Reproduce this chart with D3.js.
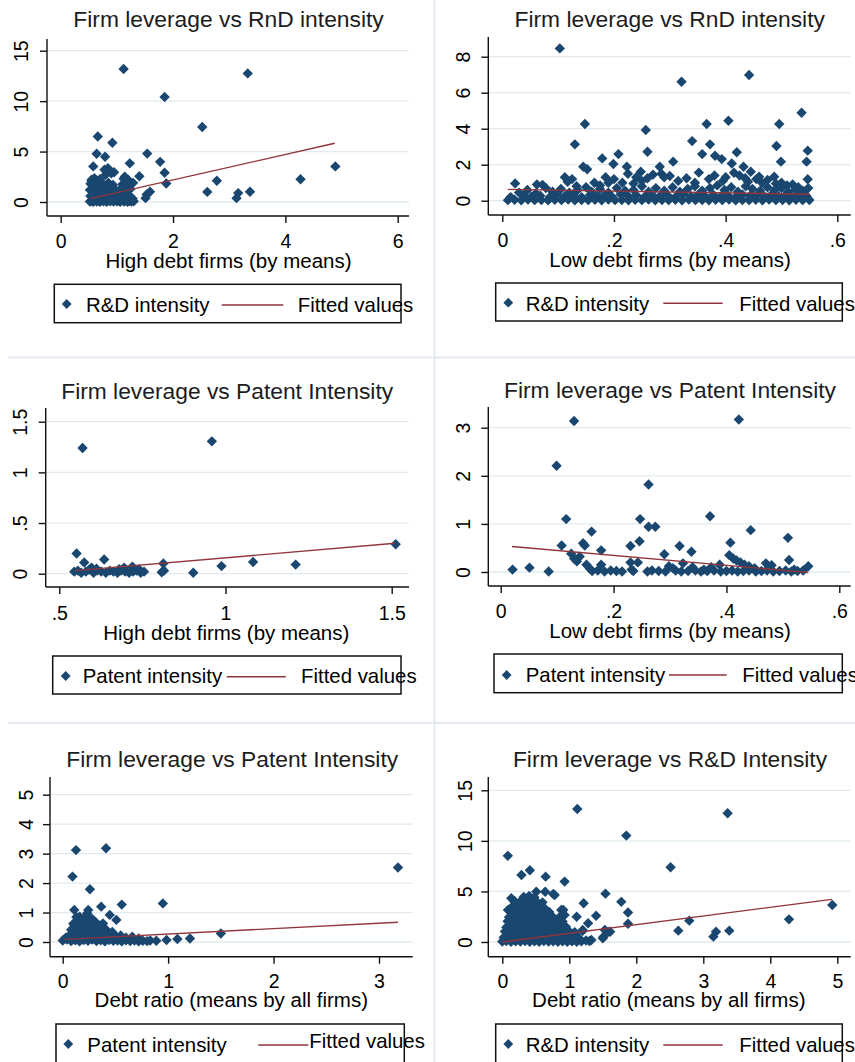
<!DOCTYPE html>
<html>
<head>
<meta charset="utf-8">
<script src="https://cdn.jsdelivr.net/npm/d3@7"></script>
<style>
  html, body { margin: 0; padding: 0; background: #fff; }
  svg { display: block; font-family: "Liberation Sans", Arial, sans-serif; }
</style>
</head>
<body>
<svg id="chart" width="855" height="1062"></svg>
<script>
// ---------- text ----------
const titles = [
  "Firm leverage vs RnD intensity",
  "Firm leverage vs RnD intensity",
  "Firm leverage vs Patent Intensity",
  "Firm leverage vs Patent Intensity",
  "Firm leverage vs Patent Intensity",
  "Firm leverage vs R&D Intensity"
];
const xTitles = [
  "High debt firms (by means)",
  "Low debt firms (by means)",
  "High debt firms (by means)",
  "Low debt firms (by means)",
  "Debt ratio (means by all firms)",
  "Debt ratio (means by all firms)"
];
const seriesLabels = ["R&D intensity", "R&D intensity", "Patent intensity", "Patent intensity", "Patent intensity", "R&D intensity"];
const fitLabel = "Fitted values";

// ---------- ticks ----------
const xTickVals = [[0, 2, 4, 6], [0, 0.2, 0.4, 0.6], [0.5, 1, 1.5], [0, 0.2, 0.4, 0.6], [0, 1, 2, 3], [0, 1, 2, 3, 4, 5]];
const xTickText = [["0", "2", "4", "6"], ["0", ".2", ".4", ".6"], [".5", "1", "1.5"], ["0", ".2", ".4", ".6"], ["0", "1", "2", "3"], ["0", "1", "2", "3", "4", "5"]];
const yTickVals = [[0, 5, 10, 15], [0, 2, 4, 6, 8], [0, 0.5, 1, 1.5], [0, 1, 2, 3], [0, 1, 2, 3, 4, 5], [0, 5, 10, 15]];
const yTickText = [["0", "5", "10", "15"], ["0", "2", "4", "6", "8"], ["0", ".5", "1", "1.5"], ["0", "1", "2", "3"], ["0", "1", "2", "3", "4", "5"], ["0", "5", "10", "15"]];

// ---------- observations: [debt measure, intensity] ----------
// High debt firms, R&D intensity
const highDebtRnd = [
  [1.12,13.18],[3.33,12.75],[1.85,10.41],[2.52,7.43],[0.66,6.5],[0.92,5.88],[0.64,4.79],[0.79,4.49],
  [1.54,4.8],[1.77,3.98],[1.23,3.83],[0.58,3.53],[4.89,3.53],[1.85,2.9],[1.4,2.55],[1.88,1.84],
  [2.78,2.1],[4.27,2.25],[2.61,1.0],[3.16,0.88],[3.13,0.38],[3.37,1.02],[1.51,0.38],[1.59,1.02],
  [1.53,0.75],[1.14,2.51],[0.84,3.34],[0.9,2.84],[0.55,2.01],[0.78,3.2],[0.88,3.1],[0.95,2.95],
  [0.8,2.7],[1.29,1.9],[1.2,2.2],
  [0.52,0.05],[0.55,0.1],[0.58,0.02],[0.61,0.2],[0.64,0.05],[0.67,0.12],[0.7,0.03],[0.73,0.25],
  [0.76,0.08],[0.79,0.15],[0.82,0.02],[0.85,0.3],[0.88,0.06],[0.91,0.18],[0.94,0.04],[0.97,0.22],
  [1.0,0.08],[1.03,0.12],[1.06,0.03],[1.1,0.27],[1.13,0.05],[1.16,0.15],[1.19,0.02],[1.22,0.1],
  [1.26,0.04],[1.3,0.07],
  [0.53,0.6],[0.57,0.45],[0.6,0.75],[0.63,0.55],[0.66,0.8],[0.69,0.5],[0.72,0.65],[0.75,0.9],
  [0.78,0.55],[0.81,0.7],[0.84,0.48],[0.87,0.82],[0.9,0.6],[0.93,0.45],[0.96,0.7],[0.99,0.55],
  [1.02,0.78],[1.05,0.5],[1.08,0.65],[1.11,0.8],[1.14,0.45],[1.17,0.6],[1.2,0.72],[1.24,0.5],[1.28,0.35],
  [0.52,1.2],[0.56,1.05],[0.59,1.35],[0.62,1.1],[0.65,1.45],[0.68,1.0],[0.71,1.3],[0.74,1.15],
  [0.77,1.4],[0.8,1.05],[0.83,1.25],[0.86,0.98],[0.89,1.2],[0.92,1.1],[0.96,1.3],[1.0,1.02],
  [1.04,1.15],[1.08,1.25],[1.12,1.05],[1.16,1.2],[1.2,1.1],[1.24,1.3],
  [0.53,1.8],[0.57,1.65],[0.6,1.95],[0.64,1.7],[0.68,1.85],[0.72,1.6],[0.76,1.75],[0.8,1.62],
  [0.85,1.9],[0.93,1.7],[1.1,1.75],[1.15,1.9],[1.2,1.65],
  [0.55,2.2],[0.6,2.35],[0.65,2.1],[0.7,2.25],[1.12,2.3],[1.18,2.15]
];

// Low debt firms, R&D intensity
const lowDebtRnd = [
  [0.103,8.46],[0.321,6.61],[0.442,6.98],[0.536,4.89],[0.148,4.26],[0.257,3.93],[0.366,4.26],[0.405,4.44],
  [0.496,4.26],[0.13,3.13],[0.34,3.31],[0.372,3.13],[0.491,3.04],[0.547,2.78],[0.26,2.72],[0.208,2.59],
  [0.179,2.35],[0.358,2.59],[0.381,2.5],[0.393,2.31],[0.42,2.69],[0.306,2.17],[0.199,2.04],[0.499,2.17],
  [0.545,2.17],[0.145,1.89],[0.152,1.75],[0.411,2.07],[0.432,1.89],[0.223,1.89],[0.282,1.89],[0.248,1.61],
  [0.445,1.61],[0.487,1.33],[0.547,1.19],[0.023,0.96],[0.3,1.37],[0.352,1.56],[0.46,1.33],[0.225,1.5],
  [0.2,1.2],[0.19,1.0],[0.112,1.3],[0.125,1.2],[0.117,1.05],[0.133,0.8],[0.062,0.9],[0.072,0.88],
  [0.27,1.45],[0.285,1.5],[0.29,1.3],[0.315,1.1],[0.33,1.25],[0.345,1.0],[0.37,1.2],[0.38,1.4],
  [0.395,1.1],[0.4,1.3],[0.415,1.55],[0.425,1.4],[0.435,1.25],[0.44,1.05],[0.455,1.2],[0.465,1.0],
  [0.475,1.15],[0.49,0.95],[0.5,1.0],[0.51,0.85],[0.52,0.9],[0.53,0.75],[0.24,1.3],[0.25,1.1],
  [0.26,1.25],[0.215,1.0],[0.235,0.95],[0.165,1.0],[0.175,0.85],[0.185,1.3],
  [0.03,0.45],[0.045,0.6],[0.06,0.4],[0.078,0.7],[0.09,0.5],[0.105,0.65],[0.12,0.45],[0.135,0.6],
  [0.15,0.75],[0.16,0.5],[0.175,0.65],[0.19,0.45],[0.205,0.7],[0.22,0.55],[0.235,0.6],[0.25,0.8],
  [0.262,0.5],[0.275,0.7],[0.29,0.55],[0.305,0.75],[0.318,0.5],[0.332,0.65],[0.345,0.8],[0.358,0.55],
  [0.372,0.7],[0.385,0.85],[0.398,0.6],[0.41,0.75],[0.422,0.5],[0.436,0.8],[0.448,0.65],[0.462,0.55],
  [0.475,0.75],[0.488,0.6],[0.5,0.7],[0.512,0.5],[0.525,0.62],[0.538,0.55],[0.548,0.7],
  [0.015,0.2],[0.038,0.3],[0.052,0.22],[0.068,0.28],[0.085,0.2],[0.098,0.35],[0.112,0.25],[0.128,0.3],
  [0.142,0.2],[0.157,0.32],[0.17,0.25],[0.183,0.3],[0.197,0.2],[0.212,0.35],[0.226,0.25],[0.24,0.3],
  [0.255,0.22],[0.268,0.33],[0.282,0.25],[0.296,0.3],[0.31,0.2],[0.324,0.35],[0.338,0.25],[0.35,0.3],
  [0.364,0.22],[0.378,0.33],[0.392,0.25],[0.404,0.3],[0.418,0.2],[0.43,0.35],[0.443,0.25],[0.456,0.3],
  [0.47,0.22],[0.482,0.33],[0.495,0.25],[0.507,0.3],[0.52,0.2],[0.532,0.33],[0.545,0.25],
  [0.01,0.03],[0.022,0.05],[0.034,0.02],[0.046,0.06],[0.058,0.03],[0.07,0.04],[0.082,0.02],[0.094,0.05],
  [0.106,0.03],[0.118,0.06],[0.13,0.02],[0.142,0.04],[0.154,0.03],[0.166,0.05],[0.178,0.02],[0.19,0.06],
  [0.202,0.03],[0.214,0.04],[0.226,0.02],[0.238,0.05],[0.25,0.03],[0.262,0.06],[0.274,0.02],[0.286,0.04],
  [0.298,0.03],[0.31,0.05],[0.322,0.02],[0.334,0.06],[0.346,0.03],[0.358,0.04],[0.37,0.02],[0.382,0.05],
  [0.394,0.03],[0.406,0.06],[0.418,0.02],[0.43,0.04],[0.442,0.03],[0.454,0.05],[0.466,0.02],[0.478,0.06],
  [0.49,0.03],[0.502,0.04],[0.514,0.02],[0.526,0.05],[0.538,0.03],[0.55,0.04]
];

// High debt firms, patent intensity
const highDebtPat = [
  [0.57,1.24],[0.959,1.306],[0.552,0.2],[0.575,0.11],[0.635,0.14],[0.597,0.06],[0.813,0.1],[0.988,0.075],
  [1.083,0.115],[1.211,0.09],[1.512,0.29],[0.903,0.01],[0.808,0.015],[0.815,0.03],[0.695,0.06],[0.72,0.07],
  [0.545,0.02],[0.556,0.03],[0.566,0.01],[0.58,0.02],[0.59,0.04],[0.603,0.01],[0.614,0.03],[0.626,0.02],
  [0.64,0.01],[0.652,0.03],[0.663,0.02],[0.675,0.01],[0.686,0.03],[0.698,0.02],[0.71,0.01],[0.722,0.02],
  [0.733,0.03],[0.745,0.01],[0.755,0.02],[0.68,0.045],[0.612,0.05],[0.74,0.045]
];

// Low debt firms, patent intensity
const lowDebtPat = [
  [0.13,3.14],[0.422,3.17],[0.099,2.21],[0.262,1.82],[0.116,1.1],[0.247,1.1],[0.371,1.16],[0.262,0.94],
  [0.274,0.94],[0.443,0.87],[0.161,0.84],[0.509,0.71],[0.246,0.64],[0.23,0.54],[0.317,0.54],[0.407,0.61],
  [0.108,0.55],[0.146,0.6],[0.149,0.55],[0.178,0.45],[0.338,0.42],[0.29,0.37],[0.021,0.05],[0.051,0.09],
  [0.085,0.01],[0.511,0.25],[0.545,0.12],
  [0.125,0.38],[0.13,0.28],[0.135,0.22],[0.14,0.32],[0.152,0.15],[0.158,0.07],[0.178,0.15],[0.23,0.2],
  [0.232,0.05],[0.243,0.2],[0.323,0.18],[0.34,0.1],[0.405,0.35],[0.412,0.28],[0.418,0.24],[0.425,0.2],
  [0.432,0.15],[0.44,0.12],[0.45,0.08],[0.47,0.18],[0.475,0.1],[0.48,0.14],[0.52,0.05],[0.298,0.12],
  [0.305,0.08],[0.36,0.05],[0.373,0.1],[0.388,0.15],
  [0.162,0.02],[0.172,0.03],[0.184,0.01],[0.195,0.03],[0.205,0.02],[0.215,0.01],[0.235,0.02],[0.26,0.01],
  [0.268,0.03],[0.28,0.02],[0.292,0.01],[0.31,0.03],[0.32,0.01],[0.332,0.02],[0.345,0.03],[0.355,0.01],
  [0.366,0.02],[0.378,0.03],[0.39,0.01],[0.4,0.02],[0.41,0.03],[0.42,0.01],[0.43,0.02],[0.44,0.03],
  [0.452,0.01],[0.462,0.02],[0.472,0.03],[0.483,0.01],[0.494,0.02],[0.505,0.03],[0.515,0.01],[0.526,0.02],
  [0.536,0.03]
];

// All firms, patent intensity
const allFirmsPat = [
  [0.126,3.12],[0.411,3.18],[0.093,2.22],[0.258,1.79],[3.18,2.53],[0.95,1.31],[0.56,1.27],[0.365,1.2],
  [0.11,1.09],[0.242,1.09],[0.233,0.98],[0.446,0.92],[0.509,0.75],[1.5,0.29],[1.207,0.12],[1.088,0.1],
  [0.985,0.07],[0.888,0.04],[0.161,0.86],[0.145,0.63],[0.114,0.52],[0.098,0.35],[0.24,0.86],[0.256,0.69],
  [0.319,0.52],[0.382,0.63],[0.398,0.46],
  [0.0,0.05],[0.04,0.08],[0.08,0.03],[0.12,0.06],[0.16,0.02],[0.2,0.07],[0.24,0.04],[0.28,0.08],
  [0.32,0.03],[0.36,0.06],[0.4,0.02],[0.44,0.07],[0.48,0.04],[0.52,0.05],[0.56,0.02],[0.6,0.06],
  [0.64,0.03],[0.68,0.05],[0.72,0.02],[0.76,0.04],[0.8,0.03],[0.83,0.05],
  [0.03,0.15],[0.07,0.25],[0.11,0.18],[0.15,0.28],[0.19,0.2],[0.23,0.3],[0.27,0.17],[0.31,0.26],
  [0.35,0.2],[0.39,0.28],[0.43,0.16],[0.47,0.24],[0.51,0.18],[0.55,0.22],[0.6,0.15],[0.66,0.18],[0.72,0.12],
  [0.08,0.42],[0.12,0.38],[0.16,0.48],[0.2,0.36],[0.24,0.45],[0.28,0.4],[0.33,0.36],[0.37,0.44],
  [0.42,0.38],[0.47,0.34],
  [0.1,0.62],[0.14,0.7],[0.18,0.58],[0.22,0.66],[0.27,0.6],[0.31,0.68],[0.35,0.56],
  [0.13,0.85],[0.2,0.8],[0.28,0.78]
];

// All firms, R&D intensity
const allFirmsRnd = [
  [1.119,13.15],[3.363,12.73],[1.851,10.52],[0.082,8.52],[2.512,7.39],[0.286,6.63],[0.411,7.1],[0.647,6.46],
  [0.93,5.97],[1.54,4.78],[1.776,3.97],[1.214,3.83],[1.876,2.92],[1.4,2.6],[4.925,3.66],[4.279,2.24],
  [2.791,2.11],[2.627,1.12],[3.388,1.12],[3.189,1.02],[3.15,0.53],[1.876,1.8],[1.51,0.53],[1.61,1.02],
  [1.11,2.5],[0.76,4.75],[0.64,4.97],[0.507,4.98],[0.134,4.32],[0.085,3.17],[0.91,3.16],[1.3,0.1],
  [1.33,0.2],[1.25,0.15],[0.782,4.65],[1.28,1.85],[1.2,1.19],[1.1,0.69],[1.53,1.19],[1.58,1.0],
  [1.5,0.37],[0.88,3.17],[0.93,2.67],
  [0.0,0.05],[0.06,0.1],[0.13,0.02],[0.2,0.08],[0.27,0.04],[0.34,0.1],[0.41,0.03],[0.48,0.07],
  [0.55,0.02],[0.62,0.09],[0.69,0.04],[0.76,0.06],[0.83,0.02],[0.9,0.08],[0.97,0.03],[1.04,0.06],
  [1.11,0.02],[1.18,0.07],
  [0.02,0.45],[0.1,0.55],[0.18,0.42],[0.26,0.6],[0.34,0.48],[0.42,0.55],[0.5,0.4],[0.58,0.58],
  [0.66,0.45],[0.74,0.52],[0.82,0.4],[0.9,0.6],[0.98,0.47],[1.06,0.55],[1.14,0.42],
  [0.04,1.05],[0.12,0.95],[0.2,1.1],[0.28,0.98],[0.36,1.08],[0.44,0.92],[0.52,1.05],[0.6,0.97],
  [0.68,1.1],[0.76,0.95],[0.84,1.02],[0.92,0.9],[1.0,1.05],[1.08,0.98],[1.2,1.1],
  [0.06,1.45],[0.14,1.55],[0.22,1.42],[0.3,1.6],[0.38,1.48],[0.46,1.55],[0.54,1.4],[0.62,1.58],
  [0.7,1.45],[0.78,1.52],[0.86,1.4],[0.95,1.5],
  [0.08,2.05],[0.16,1.95],[0.24,2.1],[0.32,1.98],[0.4,2.08],[0.48,1.92],[0.56,2.05],[0.64,1.97],
  [0.72,2.1],[0.8,1.95],[0.9,2.02],
  [0.1,2.45],[0.18,2.55],[0.26,2.42],[0.34,2.6],[0.42,2.48],[0.5,2.55],[0.58,2.4],[0.66,2.58],
  [0.76,2.45],[0.86,2.5],
  [0.12,3.05],[0.2,2.95],[0.28,3.1],[0.36,2.98],[0.44,3.08],[0.52,2.92],[0.6,3.05],[0.7,2.97],
  [0.14,3.45],[0.22,3.55],[0.3,3.42],[0.38,3.6],[0.46,3.48],[0.54,3.55],[0.62,3.4],
  [0.18,4.05],[0.26,3.95],[0.34,4.1],[0.42,3.98],[0.5,4.08],[0.6,3.92],
  [0.32,4.45],[0.4,4.55],[0.48,4.4]
];

// ---------- linear fits: end points over the observed x span ----------
const fitX = [[0.53, 4.88], [0.01, 0.551], [0.547, 1.51], [0.02, 0.545], [0.02, 3.18], [0.0, 4.92]];
const fitY = [[0.33, 5.82], [0.63, 0.36], [0.03, 0.30], [0.53, -0.01], [0.09, 0.67], [0.0, 4.22]];

const seriesData = [highDebtRnd, lowDebtRnd, highDebtPat, lowDebtPat, allFirmsPat, allFirmsRnd];

// ---------- layout of the six graphs ----------
const layout = [
  { frame: [47, 409, 39, 216], xr: [60.7, 397.7], yr: [202, 50.7], tx: 228.5, ty: 27.3, xl: 248.3, yl: 28.3, xtx: 228.5, xty: 267.7,
    lg: { box: [54.3, 401, 284.3, 322.7], m: [66.7, 304], t1: [86, 311.7], ln: [221.7, 283.3, 305], t2: [297.7, 311.7] } },
  { frame: [488.3, 850.7, 37, 215], xr: [502.3, 837.3], yr: [200.7, 56.7], tx: 669.7, ty: 26.7, xl: 246.7, yl: 470, xtx: 670, xty: 266.7,
    lg: { box: [495.7, 842.3, 283, 321], m: [508.3, 302.7], t1: [525.7, 310.7], ln: [663.3, 722.7, 303.3], t2: [739.3, 310.7] } },
  { frame: [45.7, 409, 408, 587], xr: [59.3, 391.7], yr: [573.7, 421.7], tx: 227.2, ty: 399, xl: 620, yl: 26.7, xtx: 226.3, xty: 640,
    lg: { box: [52.7, 401, 656, 694], m: [65.7, 676], t1: [82.7, 683.3], ln: [226.7, 285.7, 676.7], t2: [301, 683.3] } },
  { frame: [488.3, 850.7, 407, 586], xr: [500.7, 839.3], yr: [572, 427.7], tx: 670, ty: 397.7, xl: 618.3, yl: 470, xtx: 670, xty: 638.3,
    lg: { box: [494, 842.3, 654, 692.7], m: [506.7, 675], t1: [525.7, 681.7], ln: [669, 726.7, 675], t2: [742.3, 681.7] } },
  { frame: [50, 412.7, 777, 956.7], xr: [62.7, 379], yr: [942, 794.7], tx: 232.2, ty: 767.3, xl: 988.3, yl: 33.3, xtx: 231.3, xty: 1007.3,
    lg: { box: [56, 404.3, 1024, 1068], m: [68.3, 1044], t1: [87.3, 1051.7], ln: [258.3, 308.3, 1045], t2: [309.3, 1048.3] } },
  { frame: [488.3, 850.7, 777, 956.7], xr: [502.3, 837.3], yr: [942, 790.3], tx: 670, ty: 767.3, xl: 988.3, yl: 471.7, xtx: 668.8, xty: 1007.3,
    lg: { box: [495.7, 842.3, 1024, 1068], m: [508.3, 1044], t1: [525.7, 1051.7], ln: [663.3, 722.7, 1045], t2: [739.3, 1051.7] } }
];

const NAVY = "#1a476f", MAROON = "#90353b", GRID = "#e1ebef", INK = "#111", SEP = "#e3e9ee";

// square diamond marker (a square turned 45 degrees)
const squareDiamond = {
  draw(ctx, size) {
    const r = Math.sqrt(size / 2);
    ctx.moveTo(0, -r); ctx.lineTo(r, 0); ctx.lineTo(0, r); ctx.lineTo(-r, 0); ctx.closePath();
  }
};
const markerD = d3.symbol().type(squareDiamond).size(2 * 5.2 * 5.2)();
const legendMarkerD = d3.symbol().type(squareDiamond).size(2 * 4.9 * 4.9)();

const svg = d3.select("#chart");

// thin borders between the graphs
svg.append("line").attr("x1", 434.5).attr("x2", 434.5).attr("y1", 0).attr("y2", 1062)
  .attr("stroke", SEP).attr("stroke-width", 2);
[357.5, 723].forEach(yy => {
  svg.append("line").attr("x1", 8).attr("x2", 855).attr("y1", yy).attr("y2", yy)
    .attr("stroke", SEP).attr("stroke-width", 2);
});

layout.forEach((L, i) => {
  const g = svg.append("g");
  const [fl, fr, ft, fb] = L.frame;
  const xv = xTickVals[i], yv = yTickVals[i];
  const x = d3.scaleLinear().domain([xv[0], xv[xv.length - 1]]).range(L.xr);
  const y = d3.scaleLinear().domain([yv[0], yv[yv.length - 1]]).range(L.yr);

  // horizontal grid
  g.append("g").selectAll("line").data(yv).join("line")
    .attr("x1", fl).attr("x2", fr)
    .attr("y1", d => y(d)).attr("y2", d => y(d))
    .attr("stroke", GRID).attr("stroke-width", 1.3);

  // observations
  g.append("g").selectAll("path").data(seriesData[i]).join("path")
    .attr("d", markerD)
    .attr("transform", d => `translate(${x(d[0])},${y(d[1])})`)
    .attr("fill", NAVY);

  // fitted values
  const fitPts = fitX[i].map((v, k) => [v, fitY[i][k]]);
  g.append("path").datum(fitPts)
    .attr("d", d3.line().x(d => x(d[0])).y(d => y(d[1])))
    .attr("fill", "none").attr("stroke", MAROON).attr("stroke-width", 1.4);

  // x axis
  const xa = g.append("g").attr("transform", `translate(0,${fb})`)
    .call(d3.axisBottom(x).tickValues(xv).tickFormat((d, k) => xTickText[i][k]).tickSize(7).tickSizeOuter(0));
  xa.attr("font-family", null).attr("font-size", null);
  xa.select(".domain").remove();
  xa.selectAll(".tick line").attr("stroke", INK).attr("stroke-width", 1.4);
  xa.selectAll(".tick text").attr("y", L.xl - fb).attr("dy", null)
    .attr("font-size", 19.5).attr("fill", "#000");

  // y axis with vertical labels
  const ya = g.append("g").attr("transform", `translate(${fl},0)`)
    .call(d3.axisLeft(y).tickValues(yv).tickFormat((d, k) => yTickText[i][k]).tickSize(7).tickSizeOuter(0));
  ya.attr("font-family", null).attr("font-size", null);
  ya.select(".domain").remove();
  ya.selectAll(".tick line").attr("stroke", INK).attr("stroke-width", 1.4);
  ya.selectAll(".tick text").attr("x", null).attr("dy", null)
    .attr("text-anchor", "middle")
    .attr("transform", `translate(${L.yl - fl},0) rotate(-90)`)
    .attr("font-size", 19.5).attr("fill", "#000");

  // axis lines spanning the plot region
  g.append("line").attr("x1", fl).attr("x2", fr).attr("y1", fb).attr("y2", fb)
    .attr("stroke", INK).attr("stroke-width", 1.4);
  g.append("line").attr("x1", fl).attr("x2", fl).attr("y1", ft).attr("y2", fb)
    .attr("stroke", INK).attr("stroke-width", 1.4);

  // titles
  g.append("text").attr("x", L.tx).attr("y", L.ty).attr("text-anchor", "middle")
    .attr("font-size", 22.8).attr("fill", "#1c1c1c").text(titles[i]);
  g.append("text").attr("x", L.xtx).attr("y", L.xty).attr("text-anchor", "middle")
    .attr("font-size", 20.5).attr("fill", "#000").text(xTitles[i]);

  // legend
  const lg = L.lg;
  g.append("rect").attr("x", lg.box[0]).attr("y", lg.box[2])
    .attr("width", lg.box[1] - lg.box[0]).attr("height", lg.box[3] - lg.box[2])
    .attr("fill", "none").attr("stroke", INK).attr("stroke-width", 1.5);
  g.append("path").attr("d", legendMarkerD)
    .attr("transform", `translate(${lg.m[0]},${lg.m[1]})`).attr("fill", NAVY);
  g.append("text").attr("x", lg.t1[0]).attr("y", lg.t1[1])
    .attr("font-size", 20.4).attr("fill", "#000").text(seriesLabels[i]);
  g.append("line").attr("x1", lg.ln[0]).attr("x2", lg.ln[1]).attr("y1", lg.ln[2]).attr("y2", lg.ln[2])
    .attr("stroke", MAROON).attr("stroke-width", 1.4);
  g.append("text").attr("x", lg.t2[0]).attr("y", lg.t2[1])
    .attr("font-size", 20.4).attr("fill", "#000").text(fitLabel);
});
</script>
</body>
</html>
